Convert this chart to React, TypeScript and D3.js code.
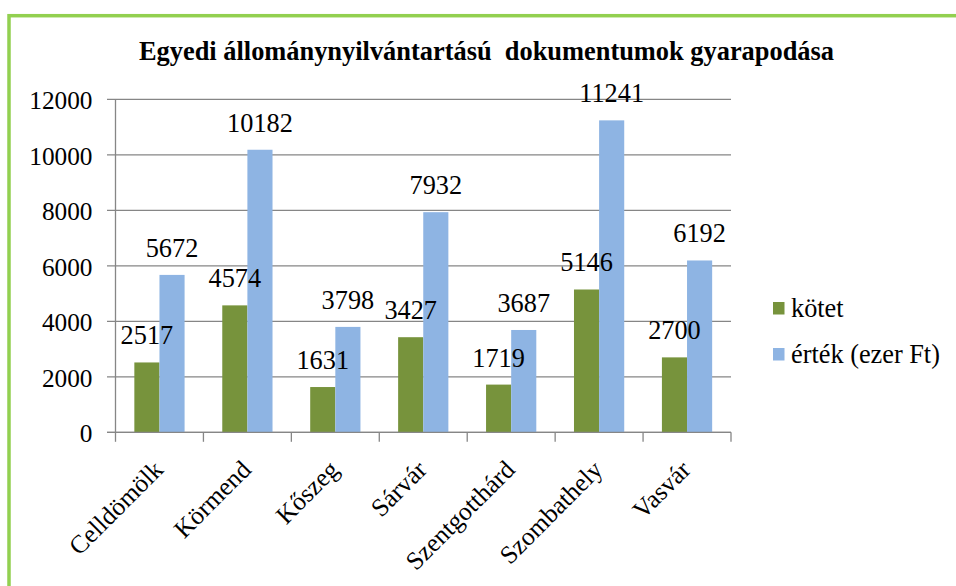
import React from "react";
import * as d3 from "d3";

const categories = ["Celldömölk", "Körmend", "Kőszeg", "Sárvár", "Szentgotthárd", "Szombathely", "Vasvár"];
const kotet = [2517, 4574, 1631, 3427, 1719, 5146, 2700];
const ertek = [5672, 10182, 3798, 7932, 3687, 11241, 6192];
const seriesNames = ["kötet", "érték (ezer Ft)"];
const seriesColors = ["#77933c", "#8eb4e3"];
const yTicks = [0, 2000, 4000, 6000, 8000, 10000, 12000];
const title = "Egyedi állománynyilvántartású  dokumentumok gyarapodása";

const W = 956;
const H = 586;
const left = 115.5;
const right = 731;
const top = 99.3;
const bottom = 432.3;
const FONT = "Liberation Serif";
const ts = { fontFamily: FONT };

export default function App() {
  const x = d3.scaleBand<string>().domain(categories).range([left, right]).paddingInner(0).paddingOuter(0);
  const y = d3.scaleLinear().domain([0, 12000]).range([bottom, top]);
  const bw = x.bandwidth();
  const barW = bw / 3.5;
  const sub = d3.scaleBand<number>().domain([0, 1]).range([0, barW * 2]);
  const series = [kotet, ertek];
  const boundaries = [...categories.map((c) => x(c) as number), right];

  return (
    <svg width={W} height={H} style={{ position: "absolute", left: 0, top: 0, background: "#fff" }}>
      <rect x={0} y={0} width={W} height={H} fill="#fff" />
      <rect x={9} y={15.7} width={1200} height={1200} fill="none" stroke="#92d050" strokeWidth={3.5} />
      <text x={486.5} y={60} textAnchor="middle" fontSize={26.4} fontWeight="bold" style={{ whiteSpace: "pre", fontFamily: FONT }} fill="#000">
        {title}
      </text>
      {/* gridlines */}
      {yTicks.map((t) => (
        <g key={t}>
          <line x1={107} x2={right} y1={y(t)} y2={y(t)} stroke="#868686" strokeWidth={1.3} />
          <text x={92.5} y={y(t) + 9.7} textAnchor="end" fontSize={25.3} fill="#000" style={ts}>
            {t}
          </text>
        </g>
      ))}
      {/* y axis */}
      <line x1={left} x2={left} y1={top} y2={bottom} stroke="#868686" strokeWidth={1.3} />
      {/* x ticks */}
      {boundaries.map((b, i) => (
        <line key={i} x1={b} x2={b} y1={bottom} y2={bottom + 9.5} stroke="#868686" strokeWidth={1.3} />
      ))}
      {/* bars */}
      {categories.map((c, i) => {
        const x0 = (x(c) as number) + (bw - barW * 2) / 2;
        return (
          <g key={c}>
            {series.map((s, j) => (
              <rect
                key={j}
                x={x0 + (sub(j) as number)}
                y={y(s[i])}
                width={barW}
                height={bottom - y(s[i])}
                fill={seriesColors[j]}
              />
            ))}
          </g>
        );
      })}
      {/* axis line over bars */}
      <line x1={107} x2={right} y1={bottom} y2={bottom} stroke="#868686" strokeWidth={1.3} />
      {/* data labels */}
      {categories.map((c, i) => {
        const x0 = (x(c) as number) + (bw - barW * 2) / 2;
        return (
          <g key={c}>
            {series.map((s, j) => (
              <text
                key={j}
                x={x0 + (sub(j) as number) + barW / 2}
                y={y(s[i]) - 18}
                textAnchor="middle"
                fontSize={26.3}
                fill="#000"
                style={ts}
              >
                {s[i]}
              </text>
            ))}
          </g>
        );
      })}
      {/* category labels */}
      {categories.map((c) => {
        const cx = (x(c) as number) + bw / 2;
        return (
          <text
            key={c}
            transform={`translate(${cx + 5},${bottom + 39}) rotate(-45)`}
            textAnchor="end"
            fontSize={25.5}
            fill="#000"
            style={ts}
          >
            {c}
          </text>
        );
      })}
      {/* legend */}
      {seriesNames.map((n, j) => (
        <g key={n} transform={`translate(773,${302 + j * 46})`}>
          <rect x={0} y={0} width={11.5} height={12.5} fill={seriesColors[j]} />
          <text x={18} y={15} fontSize={26.3} fill="#000" style={ts}>
            {n}
          </text>
        </g>
      ))}
    </svg>
  );
}
